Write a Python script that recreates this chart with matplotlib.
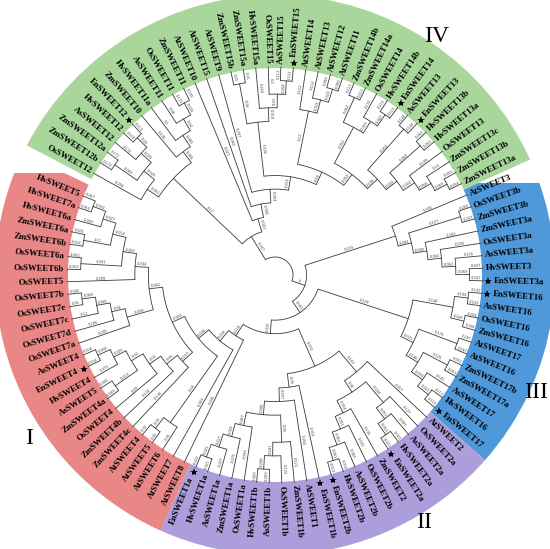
import numpy as np
import matplotlib.pyplot as plt
from matplotlib.patches import Wedge, Rectangle

# ---- tree data (Newick, branch lengths as printed on the figure) ----
S12 = "(OsSWEET12:0.258,((ZmSWEET12b:0.173,ZmSWEET12a:0.171):0.065,(AsSWEET12:0.172,(HvSWEET12:0.118,EnSWEET12:0.113):0.04):0.025):0.043)"
S11 = "(ZmSWEET10:0.136,(HvSWEET11a:0.1,(AsSWEET11:0.08,(OsSWEET11:0.131,ZmSWEET11:0.105):0.025):0.04):0.083)"
S15 = "((ZmSWEET15b:0.21,ZmSWEET15a:0.21):0.06,(HvSWEET15a:0.224,(OsSWEET15:0.2,(AsSWEET15:0.113,EnSWEET15:0.112):0.058):0.03):0.014)"
AT_CL = "(AtSWEET14:0.112,(AtSWEET13:0.112,(AtSWEET12:0.083,AtSWEET11:0.083):0.022):0.015)"
S14 = "((ZmSWEET14b:0.111,ZmSWEET14a:0.111):0.062,(OsSWEET14:0.133,(HvSWEET14b:0.113,EnSWEET14:0.113):0.047):0.059)"
S13 = "((AsSWEET13:0.144,EnSWEET13:0.144):0.054,((HvSWEET13b:0.062,HvSWEET13a:0.061):0.064,(OsSWEET13:0.199,(ZmSWEET13c:0.13,(ZmSWEET13b:0.053,ZmSWEET13a:0.054):0.069):0.058):0.024):0.041)"
S3 = "(AtSWEET3:0.395,((OsSWEET3b:0.202,ZmSWEET3b:0.207):0.107,(ZmSWEET3a:0.262,(OsSWEET3a:0.199,(AsSWEET3a:0.116,(HvSWEET3:0.047,EnSWEET3a:0.047):0.069):0.062):0.064):0.049):0.083)"
S16 = "((EnSWEET16:0.141,AsSWEET16:0.141):0.104,(OsSWEET16:0.204,ZmSWEET16:0.206):0.043)"
S17 = "((AtSWEET17:0.187,AtSWEET16:0.187):0.175,((ZmSWEET17b:0.052,ZmSWEET17a:0.051):0.125,(AsSWEET17:0.141,(HvSWEET16:0.111,EnSWEET17:0.115):0.023):0.033):0.146)"
S2 = "(AtSWEET2:0.317,((OsSWEET2a:0.127,(AsSWEET2a:0.087,(HvSWEET2a:0.021,EnSWEET2a:0.021):0.052):0.051):0.104,(ZmSWEET2:0.135,(OsSWEET2b:0.102,(AsSWEET2b:0.083,(HvSWEET2b:0.012,EnSWEET2b:0.012):0.061):0.062):0.051):0.054):0.06)"
S1 = "(EnSWEET1b:0.315,(AtSWEET1:0.264,((ZmSWEET1b:0.121,(OsSWEET1b:0.122,(AsSWEET1b:0.009,HvSWEET1b:0.009):0.098):0.041):0.06,(OsSWEET1a:0.093,(ZmSWEET1a:0.073,(AsSWEET1a:0.027,(HvSWEET1a:0.021,EnSWEET1a:0.022):0.021):0.017):0.043):0.067):0.086):0.037)"
S4 = "(ZmSWEET4c:0.136,(ZmSWEET4b:0.116,(OsSWEET4:0.09,((ZmSWEET4a:0.009,AsSWEET5:0.006):0.013,(HvSWEET4:0.072,(EnSWEET4:0.014,AsSWEET4:0.014):0.058):0.025):0.02):0.05):0.05)"
S7 = "(OsSWEET7a:0.205,(OsSWEET7d:0.185,(OsSWEET7c:0.12,(OsSWEET7e:0.05,OsSWEET7b:0.045):0.069):0.065):0.04)"
S6 = "(OsSWEET5:0.208,((OsSWEET6b:0.053,OsSWEET6a:0.052):0.097,((ZmSWEET6b:0.024,ZmSWEET6a:0.025):0.11,(HvSWEET6a:0.099,(HvSWEET7a:0.063,HvSWEET5:0.067):0.032):0.027):0.014):0.059)"

G4 = ("((" + S12 + ":0.061," + S11 + ":0.065):0.17,(AtSWEET10:0.421,(AtSWEET15:0.462,(AtSWEET9:0.297,("
      + S15 + ":0.126,(" + AT_CL + ":0.12,(" + S14 + ":0.052," + S13
      + ":0.106):0.054):0.03):0.013):0.004):0.006):0.001)")
G1 = ("(AtSWEET8:0.445,(AtSWEET7:0.303,((AtSWEET6:0.35,(AtSWEET5:0.32,AtSWEET4:0.32):0.04):0.18,("
      + S4 + ":0.157,(" + S7 + ":0.058," + S6 + ":0.034):0.062):0.063):0.038):0.018)")
TREE = ("(" + G4 + ":0.167,(" + S3 + ":0.155,((" + S16 + ":0.146," + S17 + ":0.021):0.129,(("
        + S2 + ":0.103," + S1 + ":0.09):0.072," + G1 + ":0.118):0.032):0.001):0)")

# groups: roman numeral, first leaf of the group (clockwise), colour
group_names = ['IV', 'III', 'II', 'I']
group_first = ['OsSWEET12', 'AtSWEET3', 'AtSWEET2', 'AtSWEET8']
group_colors = ['#a9d79b', '#4f98da', '#ab9edb', '#e98787']
group_label_px = [(437, 36), (536, 392), (424, 522), (29, 438)]
group_clip_y = [None, 92, None, 102]


def parse(s):
    pos = 0

    def node():
        nonlocal pos
        if s[pos] == '(':
            pos += 1
            kids = [node()]
            while s[pos] == ',':
                pos += 1
                kids.append(node())
            pos += 1
            name = ''
        else:
            start = pos
            while s[pos] not in ',):':
                pos += 1
            name = s[start:pos]
            kids = []
        length = None
        if pos < len(s) and s[pos] == ':':
            pos += 1
            start = pos
            while pos < len(s) and s[pos] not in ',()':
                pos += 1
            length = float(s[start:pos])
        return {'name': name, 'kids': kids, 'len': length}

    return node()


root = parse(TREE)

A0 = 150.7            # angle of first leaf (deg)
R_TIP = 208.0
R_ROOT = 18.0
leaves = []


def collect(n):
    if not n['kids']:
        leaves.append(n)
    for k in n['kids']:
        collect(k)


collect(root)
# one empty slot is left between group I and group IV
step_a = 360.0 / (len(leaves) + 1)
for i, lf in enumerate(leaves):
    lf['ang'] = A0 - i * step_a


def height(n):
    n['h'] = 0 if not n['kids'] else 1 + max(height(k) for k in n['kids'])
    return n['h']


H = height(root)
dr = (R_TIP - R_ROOT) / H


def place(n):
    if n['kids']:
        for k in n['kids']:
            place(k)
        n['ang'] = 0.5 * (n['kids'][0]['ang'] + n['kids'][-1]['ang'])
        n['r'] = R_TIP - n['h'] * dr
    else:
        n['r'] = R_TIP


place(root)

fig = plt.figure(figsize=(5.5, 5.49), dpi=100)
ax = fig.add_axes([0, 0, 1, 1])
ax.set_xlim(-275, 275)
ax.set_ylim(-274, 275)
ax.axis('off')

# coloured sectors
idx = {lf['name']: i for i, lf in enumerate(leaves)}
starts = [idx[g] for g in group_first] + [len(leaves)]
for g in range(len(group_names)):
    a_hi = A0 - starts[g] * step_a + step_a / 2
    if g == len(group_names) - 1:
        a_lo = A0 - len(leaves) * step_a
    else:
        a_lo = A0 - (starts[g + 1] - 1) * step_a - step_a / 2
    w = Wedge((0, 0), 280, a_lo, a_hi, width=280 - 207, facecolor=group_colors[g],
              edgecolor='none', zorder=0)
    ax.add_patch(w)
    if group_clip_y[g] is not None:
        clip = Rectangle((-300, -300), 600, 300 + group_clip_y[g], transform=ax.transData)
        w.set_clip_path(clip)
    px, py = group_label_px[g]
    ax.text(px - 275, 275 - py, group_names[g], fontsize=17, family='Liberation Serif',
            ha='center', va='center')

LC = '#3a3a3a'


def pol(r, a):
    t = np.radians(a)
    return r * np.cos(t), r * np.sin(t)


def draw(n):
    if not n['kids']:
        return
    angs = np.linspace(n['kids'][0]['ang'], n['kids'][-1]['ang'], 60)
    ax.plot(n['r'] * np.cos(np.radians(angs)), n['r'] * np.sin(np.radians(angs)),
            color=LC, lw=0.6, solid_capstyle='butt')
    for k in n['kids']:
        x0, y0 = pol(n['r'], k['ang'])
        x1, y1 = pol(k['r'], k['ang'])
        ax.plot([x0, x1], [y0, y1], color=LC, lw=0.6)
        if k['len'] is not None:
            a = k['ang']
            t = np.radians(a)
            rot = a
            if np.cos(t) < 0:
                rot = a + 180
                off = (np.sin(t) * 2.2, -np.cos(t) * 2.2)
            else:
                off = (-np.sin(t) * 2.2, np.cos(t) * 2.2)
            xm, ym = pol(0.5 * (n['r'] + k['r']), a)
            ax.text(xm + off[0], ym + off[1], '%g' % k['len'], fontsize=2.6,
                    color='#444444', rotation=rot, ha='center', va='center',
                    rotation_mode='anchor')
        draw(k)


draw(root)

# leaf labels
for lf in leaves:
    a = lf['ang']
    t = np.radians(a)
    star = lf['name'].startswith('En')
    r_lab = 219 if star else 211
    if star:
        xs, ys = pol(213, a)
        ax.plot(xs, ys, marker='*', ms=6, color='black', mec='black', mew=0)
    x, y = pol(r_lab, a)
    if np.cos(t) >= 0:
        rot, ha = a, 'left'
    else:
        rot, ha = a + 180, 'right'
    ax.text(x, y, lf['name'], fontsize=6.3, family='Liberation Serif', weight='bold',
            rotation=rot, rotation_mode='anchor', ha=ha, va='center')

fig.savefig('out.png', dpi=100)
